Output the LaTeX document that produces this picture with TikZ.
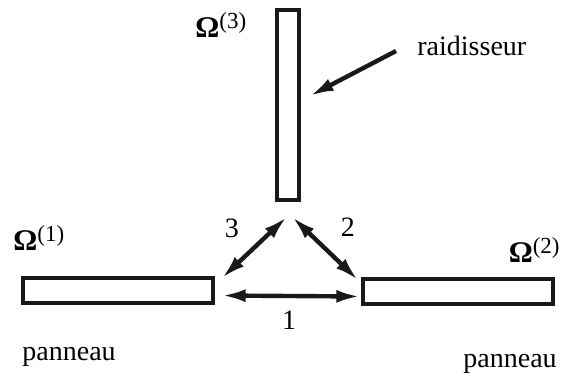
\documentclass[tikz,border=0pt]{standalone}
\usepackage{fontspec}
\setmainfont{Liberation Serif}
\usepackage{tikz}
\usetikzlibrary{arrows.meta}
\newcommand{\omlabel}[1]{{\fontsize{15}{17}\selectfont\textbf{Ω}}\raisebox{4.5pt}{\fontsize{11.5}{13}\selectfont(#1)}}
\tikzset{
  panelbar/.style={
    draw=black!90,
    fill=white,
    line width=1.7pt,
    inner sep=0pt,
    minimum width=95pt,
    minimum height=12.5pt
  },
  stiffbar/.style={
    panelbar,
    minimum width=11pt,
    minimum height=95pt
  },
  linkarrow/.style={
    {Latex[length=12pt,width=6.5pt]}-{Latex[length=12pt,width=6.5pt]},
    line width=2.2pt,
    draw=black!90
  },
  pointarrow/.style={
    -{Latex[length=12pt,width=6.5pt]},
    line width=2.2pt,
    draw=black!90
  },
  lbl/.style={
    font=\fontsize{14}{16}\selectfont,
    inner sep=0pt
  }
}

\begin{document}
\begin{tikzpicture}[x=0.5pt,y=-0.5pt]
    \useasboundingbox (0,0) rectangle (564,372);

    \node[stiffbar] (stiff) at (288,105) {};
    \node[panelbar] (leftpanel) at (118,290.5) {};
    \node[panelbar] (rightpanel) at (458,291.5) {};

    \node[lbl, anchor=base west] (om3) at (195,37) {\omlabel{3}};
    \node[lbl, anchor=base west] (om1) at (13,250) {\omlabel{1}};
    \node[lbl, anchor=base east] (om2) at (560,262) {\omlabel{2}};
    \node[lbl, anchor=base west] (raid) at (417,55) {raidisseur};
    \node[lbl, anchor=base west] (panleft) at (22,360) {panneau};
    \node[lbl, anchor=base west] (panright) at (463,367) {panneau};
    \node[lbl] (lab3) at (232,228) {3};
    \node[lbl] (lab2) at (348,227) {2};
    \node[lbl] (lab1) at (289,320) {1};

    \coordinate (raidtail) at (396,51);

    \draw[linkarrow] ([shift={(7,5)}]leftpanel.east) -- ([shift={(-1,5)}]rightpanel.west);
    \draw[linkarrow] ([shift={(-1,15)}]stiff.south) -- ([shift={(7,2)}]leftpanel.north east);
    \draw[linkarrow] ([shift={(4,15)}]stiff.south) -- ([shift={(-3,3)}]rightpanel.north west);
    \draw[pointarrow] (raidtail) -- ([shift={(9,-9)}]stiff.east);
\end{tikzpicture}
\end{document}
